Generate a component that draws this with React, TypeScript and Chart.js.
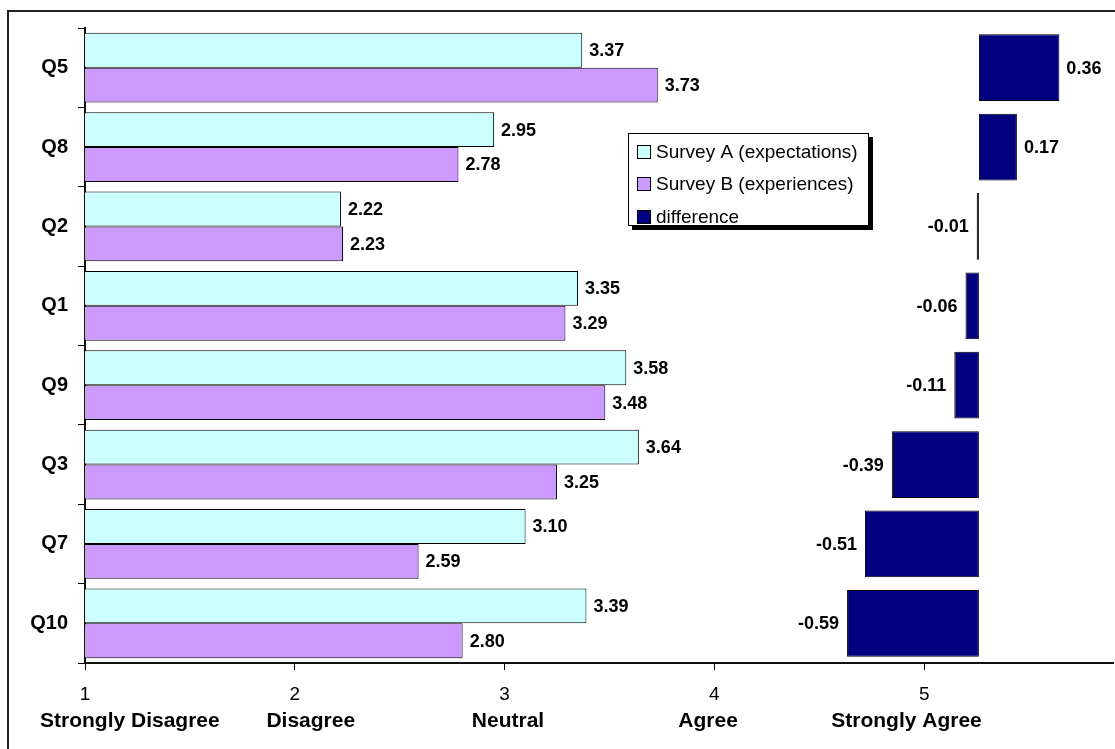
import React, { useEffect, useRef } from "react";
import { Chart, registerables } from "chart.js";

Chart.register(...registerables);

const categories = ["Q5", "Q8", "Q2", "Q1", "Q9", "Q3", "Q7", "Q10"];
const surveyA = [3.37, 2.95, 2.22, 3.35, 3.58, 3.64, 3.1, 3.39];
const surveyB = [3.73, 2.78, 2.23, 3.29, 3.48, 3.25, 2.59, 2.8];
const difference = [0.36, 0.17, -0.01, -0.06, -0.11, -0.39, -0.51, -0.59];
const scaleTicks = [1, 2, 3, 4, 5];
const scaleWords = ["Strongly Disagree", "Disagree", "Neutral", "Agree", "Strongly Agree"];
const seriesNames = ["Survey A (expectations)", "Survey B (experiences)", "difference"];

const FONT = "'Liberation Sans', Arial, sans-serif";

const valueLabels = {
  id: "valueLabels",
  afterDatasetsDraw(chart: any) {
    const ctx = chart.ctx;
    ctx.save();
    ctx.font = `bold 18px ${FONT}`;
    ctx.fillStyle = "#000";
    ctx.textBaseline = "middle";
    chart.data.datasets.forEach((ds: any, di: number) => {
      const meta = chart.getDatasetMeta(di);
      meta.data.forEach((el: any, i: number) => {
        const v = ds.data[i] as number;
        const { x, y, base } = el.getProps(["x", "y", "base"], true);
        const text = v.toFixed(2);
        if (v >= 0) {
          ctx.textAlign = "left";
          ctx.fillText(text, Math.max(x, base) + 7, y + 1);
        } else {
          ctx.textAlign = "right";
          ctx.fillText(text, Math.min(x, base) - 8, y + 1);
        }
      });
    });
    ctx.restore();
  },
};

const boxLegend = {
  id: "boxLegend",
  afterDraw(chart: any) {
    const ctx = chart.ctx;
    const a = chart.chartArea;
    const x = a.left + 543;
    const y = a.top + 105;
    const w = 241;
    const h = 93;
    ctx.save();
    ctx.fillStyle = "#000";
    ctx.fillRect(x + 4, y + 4, w, h);
    ctx.fillStyle = "#fff";
    ctx.fillRect(x, y, w, h);
    ctx.strokeStyle = "#000";
    ctx.lineWidth = 1;
    ctx.strokeRect(x + 0.5, y + 0.5, w - 1, h - 1);
    ctx.font = `19px ${FONT}`;
    ctx.textBaseline = "middle";
    ctx.textAlign = "left";
    chart.data.datasets.forEach((ds: any, i: number) => {
      const cy = Math.round(y + 18.5 + i * 32.8);
      ctx.fillStyle = ds.backgroundColor;
      ctx.fillRect(x + 9, cy - 7, 14, 14);
      ctx.strokeStyle = "#000";
      ctx.strokeRect(x + 9.5, cy - 6.5, 13, 13);
      ctx.fillStyle = "#000";
      ctx.fillText(ds.label, x + 28, cy + 1);
    });
    ctx.restore();
  },
};

const scaleWordsTitle = {
  id: "scaleWordsTitle",
  afterDraw(chart: any) {
    const { ctx, chartArea } = chart;
    const gaps = [8, 20, 23, 16];
    const text = scaleWords.reduce(
      (acc: string, w: string, i: number) => (i === 0 ? w : acc + " ".repeat(gaps[i - 1]) + w),
      ""
    );
    ctx.save();
    ctx.font = `bold 21px ${FONT}`;
    ctx.fillStyle = "#000";
    ctx.textAlign = "left";
    ctx.textBaseline = "alphabetic";
    ctx.fillText(text, chartArea.left - 45, chartArea.bottom + 64);
    ctx.restore();
  },
};

export default function App() {
  const canvasRef = useRef<HTMLCanvasElement | null>(null);

  useEffect(() => {
    if (!canvasRef.current) return;
    Chart.defaults.font.family = FONT;
    const chart = new Chart(canvasRef.current, {
      type: "bar",
      data: {
        labels: categories,
        datasets: [
          {
            label: seriesNames[0],
            data: surveyA,
            backgroundColor: "#CCFFFF",
            borderColor: "#000",
            borderWidth: 1,
            borderSkipped: false,
            xAxisID: "x",
            categoryPercentage: 0.88,
            barPercentage: 1,
          },
          {
            label: seriesNames[1],
            data: surveyB,
            backgroundColor: "#CC99FF",
            borderColor: "#000",
            borderWidth: 1,
            borderSkipped: false,
            xAxisID: "x",
            categoryPercentage: 0.88,
            barPercentage: 1,
          },
          {
            label: seriesNames[2],
            data: difference,
            backgroundColor: "#000080",
            borderColor: "#000",
            borderWidth: 1,
            borderSkipped: false,
            xAxisID: "x2",
            grouped: false,
            categoryPercentage: 0.84,
            barPercentage: 1,
          },
        ] as any,
      },
      options: {
        indexAxis: "y",
        animation: false,
        responsive: true,
        maintainAspectRatio: false,
        layout: { padding: { top: 16, right: 2, left: 0, bottom: 0 } },
        plugins: {
          legend: { display: false },
          tooltip: { enabled: false },
        },
        scales: {
          y: {
            type: "category",
            grid: {
              offset: true,
              drawOnChartArea: false,
              tickLength: 7,
              color: "#000",
              lineWidth: 1,
            },
            border: { color: "#111", width: 2 },
            ticks: {
              font: { size: 20, weight: "bold", family: FONT },
              color: "#000",
              padding: 10,
            },
            afterFit: (scale: any) => {
              scale.width = 76;
              scale.paddingTop = 0;
              scale.paddingBottom = 0;
            },
          },
          x: {
            type: "linear",
            position: "bottom",
            min: scaleTicks[0],
            max: 5.9,
            grid: {
              drawOnChartArea: false,
              tickLength: 7,
              color: "#000",
              lineWidth: 1,
            },
            border: { color: "#111", width: 2 },
            ticks: {
              stepSize: 1,
              font: { size: 19, family: FONT },
              color: "#000",
              padding: 13,
              callback: (v: any) => String(v),
            },
            afterBuildTicks: (scale: any) => {
              scale.ticks = scaleTicks.map((v) => ({ value: v }));
            },
            afterFit: (scale: any) => {
              scale.height = 86;
            },
          },
          x2: {
            type: "linear",
            position: "bottom",
            display: false,
            min: -4,
            max: 0.6,
          },
        },
      } as any,
      plugins: [valueLabels, boxLegend, scaleWordsTitle],
    });
    return () => chart.destroy();
  }, []);

  return (
    <div
      style={{
        position: "fixed",
        left: 7,
        top: 10,
        width: 1108,
        height: 739,
        boxSizing: "border-box",
        borderLeft: "2px solid #222",
        borderTop: "2px solid #222",
        background: "#fff",
      }}
    >
      <div style={{ position: "relative", width: 1106, height: 737 }}>
        <canvas ref={canvasRef} />
      </div>
    </div>
  );
}
